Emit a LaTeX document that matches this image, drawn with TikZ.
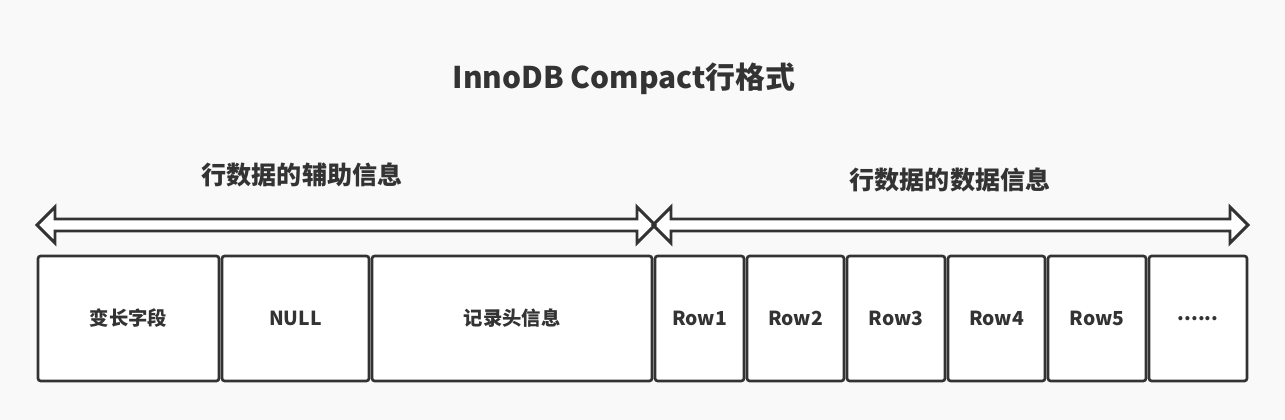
\documentclass[tikz,border=0pt]{standalone}
\usepackage{fontspec}
\setmainfont{Noto Sans CJK SC}
\definecolor{bg}{HTML}{F9F9F9}
\definecolor{ink}{HTML}{333333}
\tikzset{
  cell/.style={draw=ink, fill=white, line width=2pt, rounded corners=2pt,
    minimum height=125*0.75pt, inner sep=0pt, text=ink,
    font=\fontsize{14.5pt}{17pt}\selectfont\bfseries},
  label/.style={text=ink, inner sep=0pt, font=\fontsize{18.8pt}{22pt}\selectfont\bfseries},
  titletext/.style={text=ink, inner sep=0pt, font=\fontsize{22.4pt}{26pt}\selectfont\bfseries},
  bigarrow/.style={draw=ink, line width=2.2pt, line join=miter, miter limit=10},
}
\begin{document}
\begin{tikzpicture}[x=0.75pt, y=-0.75pt]
\fill[bg] (0,0) rectangle (1285,420);
\useasboundingbox (0,0) rectangle (1285,420);

\node[titletext] (title) at (624,79) {InnoDB Compact行格式};
\node[label] (aux) at (302,175) {行数据的辅助信息};
\node[label] (data) at (950,180) {行数据的数据信息};

% hollow double arrows
\def\arrowA{(37,225) -- (55,207) -- (55,219) -- (637,219) -- (637,207) -- (655,225) -- (637,243) -- (637,231) -- (55,231) -- (55,243) -- cycle}
\def\arrowB{(653,225) -- (671,207) -- (671,219) -- (1230,219) -- (1230,207) -- (1248,225) -- (1230,243) -- (1230,231) -- (671,231) -- (671,243) -- cycle}
\fill[white] \arrowA;
\fill[white] \arrowB;
\draw[bigarrow] \arrowA;
\draw[bigarrow] \arrowB;

\node[cell, minimum width=181*0.75pt] (c1) at (128.5,318.5) {变长字段};
\node[cell, minimum width=147*0.75pt] (c2) at (295.5,318.5) {NULL};
\node[cell, minimum width=280*0.75pt] (c3) at (512,318.5) {记录头信息};
\node[cell, minimum width=89*0.75pt] (r1) at (699.5,318.5) {Row1};
\node[cell, minimum width=97*0.75pt] (r2) at (795.5,318.5) {Row2};
\node[cell, minimum width=98*0.75pt] (r3) at (896,318.5) {Row3};
\node[cell, minimum width=97*0.75pt] (r4) at (996.5,318.5) {Row4};
\node[cell, minimum width=98*0.75pt] (r5) at (1097,318.5) {Row5};
\node[cell, minimum width=98*0.75pt] (r6) at (1198,318.5) {......};
\end{tikzpicture}
\end{document}
